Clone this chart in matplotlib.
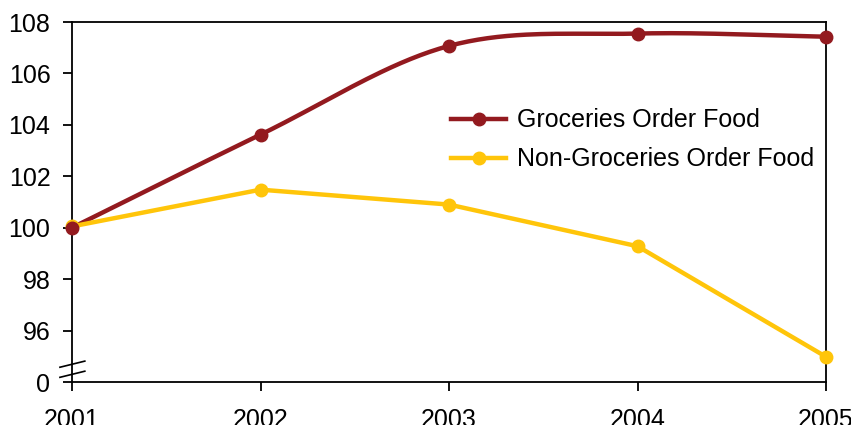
import numpy as np
import matplotlib
matplotlib.use("Agg")
import matplotlib.pyplot as plt
from matplotlib.lines import Line2D

plt.rcParams["font.family"] = ["Liberation Sans", "DejaVu Sans"]

years = [2001, 2002, 2003, 2004, 2005]
groceries = [100.0, 103.62, 107.07, 107.55, 107.43]
non_groceries = [100.05, 101.48, 100.9, 99.28, 94.98]
y_ticks = [94, 96, 98, 100, 102, 104, 106, 108]
y_tick_labels = ["0", "96", "98", "100", "102", "104", "106", "108"]

red = "#931A1F"
yellow = "#FFC50A"
LW = 3.2
MS = 9


def smooth(x, y, n=40):
    """Catmull-Rom curve through the points (Excel-style smoothed line)."""
    x = np.asarray(x, float)
    y = np.asarray(y, float)
    px = np.concatenate([[2 * x[0] - x[1]], x, [2 * x[-1] - x[-2]]])
    py = np.concatenate([[2 * y[0] - y[1]], y, [2 * y[-1] - y[-2]]])
    xs, ys = [], []
    t = np.linspace(0, 1, n)
    for i in range(1, len(px) - 2):
        for p, out in ((px, xs), (py, ys)):
            p0, p1, p2, p3 = p[i - 1], p[i], p[i + 1], p[i + 2]
            out.append(0.5 * ((2 * p1) + (-p0 + p2) * t
                              + (2 * p0 - 5 * p1 + 4 * p2 - p3) * t ** 2
                              + (-p0 + 3 * p1 - 3 * p2 + p3) * t ** 3))
    return np.concatenate(xs), np.concatenate(ys)


fig = plt.figure(figsize=(8.51, 4.25), dpi=100)
ax = fig.add_axes([72 / 851, 1 - 382 / 425, (826 - 72) / 851, (382 - 22) / 425])

gx, gy = smooth(years, groceries)
ax.plot(gx, gy, color=red, lw=LW, solid_capstyle="round", clip_on=False, zorder=3)
ax.plot(years, groceries, "o", color=red, ms=MS, clip_on=False, zorder=4)
ax.plot(years, non_groceries, color=yellow, lw=LW, marker="o", ms=MS,
        clip_on=False, zorder=3)

ax.set_xlim(2001, 2005)
ax.set_ylim(94, 108)
ax.set_xticks(years)
ax.set_xticklabels([str(y) for y in years])
ax.set_yticks(y_ticks)
ax.set_yticklabels(y_tick_labels)
ax.tick_params(axis="both", labelsize=18, width=1.3, length=6.5, direction="out")
ax.tick_params(axis="y", pad=9)
ax.tick_params(axis="x", pad=12)
for s in ax.spines.values():
    s.set_linewidth(1.3)
    s.set_color("black")

# axis break marks on the y axis
for dy in (0.0, 0.028):
    ax.plot([-0.016, 0.017], [0.013 + dy, 0.03 + dy], transform=ax.transAxes,
            color="black", lw=1.2, clip_on=False, zorder=5)

handles = [
    Line2D([], [], color=red, lw=LW, marker="o", ms=MS),
    Line2D([], [], color=yellow, lw=LW, marker="o", ms=MS),
]
ax.legend(handles, ["Groceries Order Food", "Non-Groceries Order Food"],
          loc="upper left", bbox_to_anchor=(0.503, 0.76), frameon=False,
          fontsize=18, handlelength=2.2, handletextpad=0.42, labelspacing=0.6,
          borderaxespad=0, borderpad=0)

fig.savefig("out.png", dpi=100)
